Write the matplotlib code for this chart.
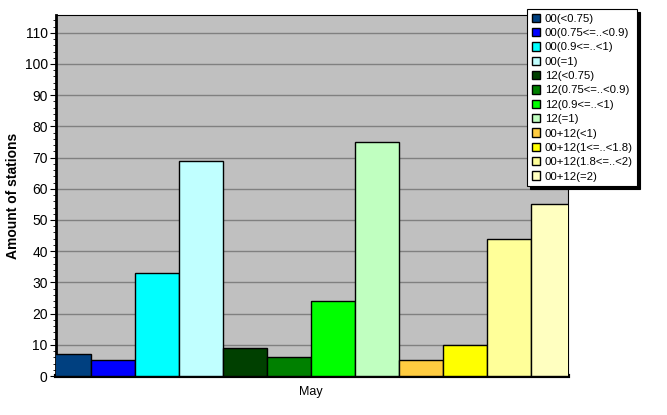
import numpy as np
import matplotlib.pyplot as plt
from matplotlib.ticker import MultipleLocator

# series (one bar each, single category "May")
labels = ["00(<0.75)", "00(0.75<=..<0.9)", "00(0.9<=..<1)", "00(=1)",
          "12(<0.75)", "12(0.75<=..<0.9)", "12(0.9<=..<1)", "12(=1)",
          "00+12(<1)", "00+12(1<=..<1.8)", "00+12(1.8<=..<2)", "00+12(=2)"]
values = [7, 5, 33, 69, 9, 6, 24, 75, 5, 10, 44, 55]
colors = ["#004080", "#0000FF", "#00FFFF", "#C0FFFF",
          "#004000", "#008000", "#00FF00", "#C0FFC0",
          "#FFCC40", "#FFFF00", "#FFFF99", "#FFFFC0"]
category = "May"

plt.rcParams['font.family'] = ['Liberation Sans', 'DejaVu Sans']

fig = plt.figure(figsize=(6.67, 4.15), dpi=100)
ax = fig.add_axes([56 / 667, 1 - 376 / 415, 512 / 667, 361 / 415])
ax.set_facecolor("#C0C0C0")

n = len(values)
pos = np.arange(n) - (n - 1) / 2
for p, v, c, lab in zip(pos, values, colors, labels):
    ax.bar(p, v, width=1.0, color=c, edgecolor="black", linewidth=1.0,
           label=lab, zorder=3)

ax.set_xlim(-5.795, 5.84)
ax.set_ylim(0, 115.7)
ax.set_xticks([0])
ax.set_xticklabels([category], fontsize=9)
ax.tick_params(axis='x', length=0, pad=7)

ax.yaxis.set_major_locator(MultipleLocator(10))
ax.yaxis.set_minor_locator(MultipleLocator(2))
ax.tick_params(axis='y', which='major', length=4, labelsize=10,
               direction='out', pad=2)
ax.tick_params(axis='y', which='minor', length=2, direction='out')
ax.yaxis.grid(True, color="#808080", linewidth=1.0, zorder=0)
ax.set_axisbelow(True)

ax.spines['left'].set_linewidth(2)
ax.spines['bottom'].set_linewidth(3)
ax.spines['top'].set_linewidth(0.8)
ax.spines['right'].set_linewidth(0.8)

ax.set_ylabel("Amount of stations", fontsize=10, fontweight='bold', labelpad=3)

leg = fig.legend(loc='upper left', bbox_to_anchor=(527 / 667, 1 - 9 / 415),
                 fontsize=8.2, frameon=True, fancybox=False,
                 shadow={'color': 'black', 'alpha': 1, 'ox': 2, 'oy': -2},
                 handlelength=0.75, handleheight=0.75, handletextpad=0.4,
                 labelspacing=0.37, borderpad=0.4, borderaxespad=0)
leg.get_frame().set_edgecolor("black")
leg.get_frame().set_linewidth(0.8)
leg.get_frame().set_alpha(1)

fig.savefig("out.png", dpi=100)
